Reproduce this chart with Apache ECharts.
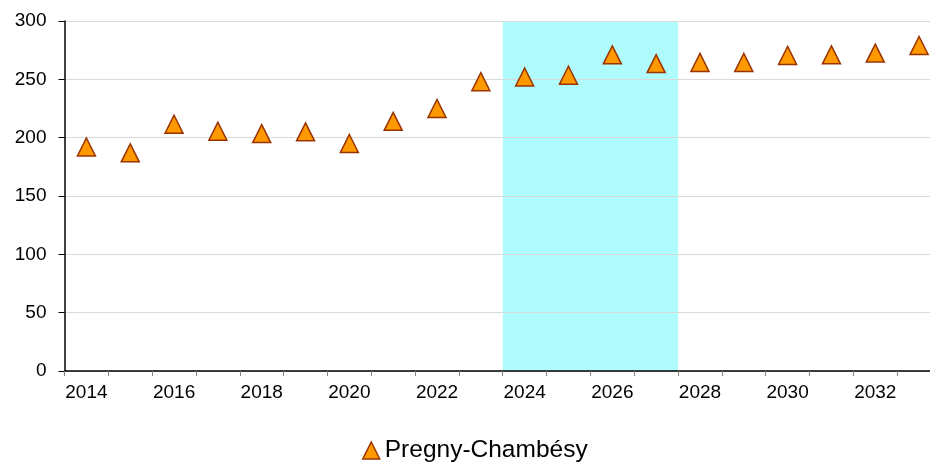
<!DOCTYPE html>
<html>
<head>
<meta charset="utf-8">
<script src="https://cdn.jsdelivr.net/npm/echarts@6/dist/echarts.min.js"></script>
<style>
  html, body { margin: 0; padding: 0; background: #ffffff; overflow: hidden; }
  /* the drawing is a little wider than the window; its right edge is cut off */
  #chart { width: 941px; height: 464px; }
</style>
</head>
<body>
<div id="chart"></div>
<script>
// Years on the horizontal axis
const years = ['2014', '2015', '2016', '2017', '2018', '2019', '2020', '2021', '2022', '2023',
               '2024', '2025', '2026', '2027', '2028', '2029', '2030', '2031', '2032', '2033'];

// Yearly values for Pregny-Chambésy
const seriesName = 'Pregny-Chambésy';
const values = [192, 187, 211.5, 205.5, 203.5, 205, 195, 214, 225, 248,
                252, 253.5, 271, 263.5, 264.5, 264.5, 270.5, 271, 272.5, 279];

// Highlighted period
const highlightYears = ['2024', '2025', '2026', '2027'];

// Value axis
const yMin = 0;
const yMax = 300;
const yStep = 50;

// band edges of the highlighted period, in category units
const bandStart = years.indexOf(highlightYears[0]);
const bandEnd = years.indexOf(highlightYears[highlightYears.length - 1]) + 1;

const font = 'Liberation Sans, Arial, sans-serif';
const chart = echarts.init(document.getElementById('chart'), null, { renderer: 'canvas' });

chart.setOption({
  animation: false,
  backgroundColor: '#ffffff',
  grid: { left: 64.5, top: 21, right: 0, bottom: 93, containLabel: false },
  legend: {
    data: [seriesName],
    left: 357,
    top: 433,
    itemWidth: 17,
    itemHeight: 17,
    icon: 'triangle',
    textStyle: { fontFamily: font, fontSize: 24.5, color: '#000000' },
    itemStyle: { color: '#FF9900', borderColor: '#993300', borderWidth: 1.5 }
  },
  xAxis: [
    {
      type: 'category',
      data: years,
      boundaryGap: true,
      z: 3,
      axisLine: { show: true, lineStyle: { color: '#000000', width: 1.5 } },
      axisTick: { show: true, interval: 0, length: 5, lineStyle: { color: '#808080', width: 1 } },
      axisLabel: { interval: 1, margin: 12, fontFamily: font, fontSize: 19, color: '#000000' },
      splitLine: { show: false }
    },
    {
      // hidden helper axis spanning the same width, one unit per year
      type: 'value',
      min: 0,
      max: years.length,
      show: false
    }
  ],
  yAxis: {
    type: 'value',
    min: yMin,
    max: yMax,
    interval: yStep,
    z: 3,
    axisLine: { show: true, lineStyle: { color: '#000000', width: 1.5 } },
    axisTick: { show: true, length: 6, lineStyle: { color: '#000000', width: 1 } },
    axisLabel: { margin: 18, fontFamily: font, fontSize: 19, color: '#000000' },
    splitLine: { show: true, lineStyle: { color: '#d9d9d9', width: 1 } }
  },
  series: [
    {
      name: 'highlight',
      type: 'line',
      xAxisIndex: 1,
      data: [],
      z: 1,
      silent: true,
      markArea: {
        silent: true,
        itemStyle: { color: '#B0FCFC', opacity: 1 },
        data: [[{ xAxis: bandStart }, { xAxis: bandEnd }]]
      }
    },
    {
      name: seriesName,
      type: 'scatter',
      data: values,
      symbol: 'triangle',
      symbolSize: 18,
      z: 5,
      itemStyle: { color: '#FF9900', borderColor: '#993300', borderWidth: 1.5, opacity: 1 }
    }
  ]
});
</script>
</body>
</html>
